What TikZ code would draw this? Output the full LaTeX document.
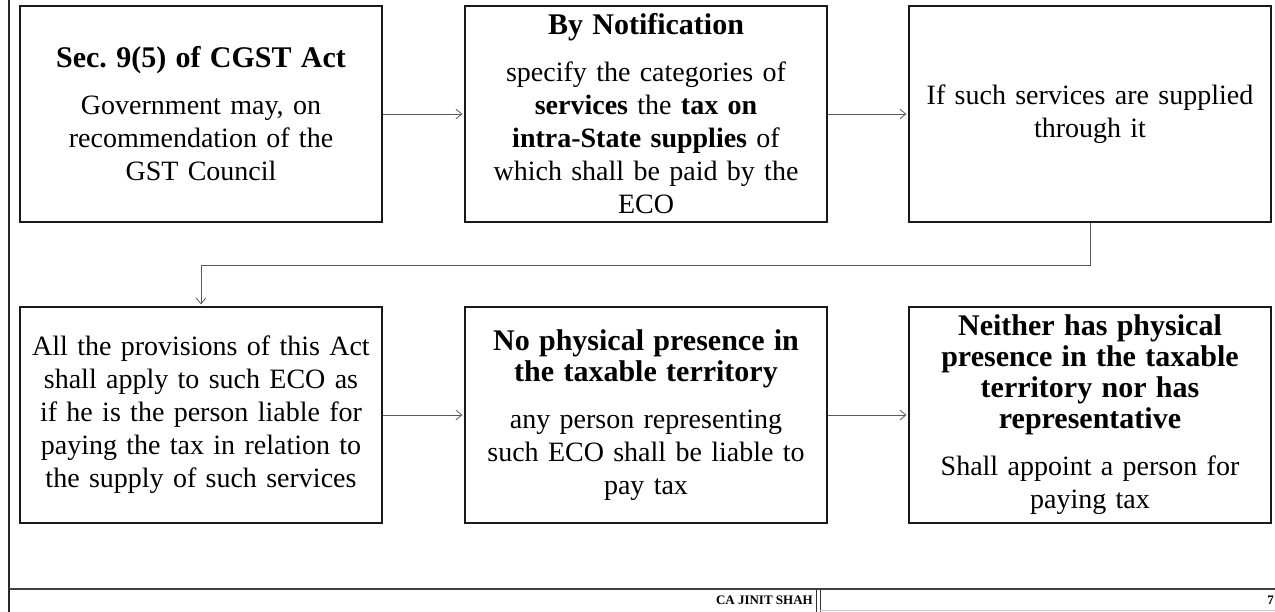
\documentclass[tikz,border=0pt]{standalone}
\usepackage{fontspec}
\setmainfont{Liberation Serif}
\usetikzlibrary{arrows.meta}
\frenchspacing

\newcommand{\bodyfont}{\fontsize{28}{33}\selectfont}
\newcommand{\headfont}{\fontsize{30}{31}\selectfont\bfseries}
\newcommand{\boxhead}[1]{{\headfont #1\par}\vspace{14pt}}

\tikzset{
  flowbox/.style={draw=black!90, line width=1.2pt, rectangle,
    minimum width=362pt, minimum height=216pt, inner sep=3pt,
    text width=354pt, align=center, font=\bodyfont},
  conn/.style={draw=black!65, line width=0.8pt,
    -{Straight Barb[length=6pt,width=10pt]}, shorten >=2pt},
  frame/.style={draw=black!85, line width=2pt},
  footline/.style={draw=black!75, line width=1.5pt},
  footnote/.style={font=\fontsize{13}{15}\selectfont\bfseries, inner sep=0pt}
}

\begin{document}
\begin{tikzpicture}[x=1pt,y=-1pt]
  \useasboundingbox (0,0) rectangle (1275,612);

  % page frame and footer rules
  \draw[frame] (9,0) -- (9,612);
  \draw[footline] (9,589) -- (1275,589);
  \draw[black!80, line width=1pt] (816,589) -- (816,612);
  \draw[black!80, line width=1pt] (820,589) -- (820,612);
  \draw[black!20, line width=1pt] (820,610.5) -- (1275,610.5);
  \node[footnote, anchor=east] (author) at (813,600) {CA JINIT SHAH};
  \node[footnote, anchor=east] (pageno) at (1274,600) {7};

  % top row
  \node[flowbox] (b1) at (201,114) {%
    \boxhead{Sec. 9(5) of CGST Act}%
    Government may, on\\recommendation of the\\GST Council};
  \node[flowbox] (b2) at (646,114) {%
    \boxhead{By Notification}%
    specify the categories of\\
    \textbf{services} the \textbf{tax on}\\
    \textbf{intra-State supplies} of\\
    which shall be paid by the\\ECO};
  \node[flowbox] (b3) at (1090,114) {%
    If such services are supplied\\through it};

  % bottom row
  \node[flowbox] (b4) at (201,415) {%
    All the provisions of this Act\\
    shall apply to such ECO as\\
    if he is the person liable for\\
    paying the tax in relation to\\
    the supply of such services};
  \node[flowbox] (b5) at (646,415) {%
    \boxhead{No physical presence in\\the taxable territory}%
    any person representing\\
    such ECO shall be liable to\\
    pay tax};
  \node[flowbox] (b6) at (1090,415) {%
    \boxhead{Neither has physical\\presence in the taxable\\territory nor has\\representative}%
    Shall appoint a person for\\paying tax};

  % connectors
  \draw[conn] (b1.east) -- (b2.west);
  \draw[conn] (b2.east) -- (b3.west);
  \draw[conn] (b3.south) -- ++(0,43) -| (b4.north);
  \draw[conn] (b4.east) -- (b5.west);
  \draw[conn] (b5.east) -- (b6.west);
\end{tikzpicture}
\end{document}
